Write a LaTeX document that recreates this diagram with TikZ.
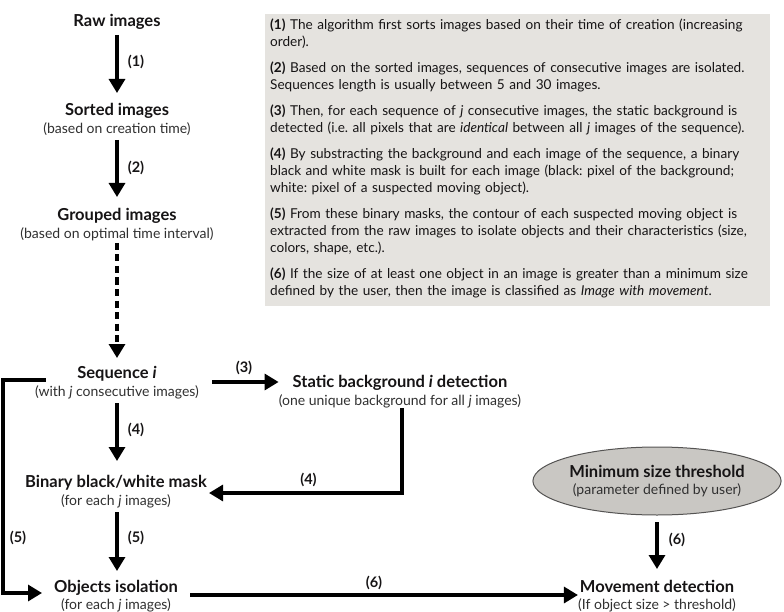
\documentclass[tikz,border=0pt]{standalone}
\usepackage{fontspec}
\setmainfont{Lato}
\usetikzlibrary{arrows.meta,shapes.geometric}
\definecolor{txt}{HTML}{161415}
\definecolor{subtxt}{HTML}{303030}
\definecolor{boxfill}{HTML}{E5E3DF}
\definecolor{ellfill}{HTML}{C9C7C3}
\definecolor{ellline}{HTML}{555453}
\tikzset{
  stage/.style={align=center, inner sep=0pt, text=txt, font=\fontsize{16.5}{19}\selectfont\bfseries},
  lab/.style={inner sep=0pt, text=txt, font=\fontsize{14.5}{16}\selectfont\bfseries},
  arr/.style={line width=3.2pt, draw=black, -{Triangle[width=16pt,length=14pt]}},
  dasharr/.style={arr, dash pattern=on 7pt off 4.5pt},
  thrbox/.style={ellipse, draw=ellline, line width=1pt, fill=ellfill, minimum width=233pt, minimum height=68pt, inner sep=0pt, align=center, text=txt, font=\fontsize{16.5}{19}\selectfont\bfseries},
}
\newcommand{\subl}[1]{\\[-1.5pt]{\fontsize{14}{15}\selectfont\mdseries\color{subtxt}#1}}
\begin{document}
\frenchspacing
\begin{tikzpicture}[x=1pt,y=-1pt]
\useasboundingbox (0,0) rectangle (784,612);
\fill[white] (0,0) rectangle (784,612);
% notes box
\fill[boxfill] (265,14) rectangle (770,306);
\node[anchor=north west, inner sep=0pt, text width=505pt, align=left, text=txt,
      font=\fontsize{13.6}{17}\selectfont] (notes) at (270,19) {%
\frenchspacing\setlength{\parskip}{9pt}%
\textbf{(1)} The algorithm first sorts images based on their time of creation (increasing\\order).\par
\textbf{(2)} Based on the sorted images, sequences of consecutive images are isolated.\\Sequences length is usually between 5 and 30 images.\par
\textbf{(3)} Then, for each sequence of \textit{j} consecutive images, the static background is\\detected (i.e. all pixels that are \textit{identical} between all \textit{j} images of the sequence).\par
\textbf{(4)} By substracting the background and each image of the sequence, a binary\\black and white mask is built for each image (black: pixel of the background;\\white: pixel of a suspected moving object).\par
\textbf{(5)} From these binary masks, the contour of each suspected moving object is\\extracted from the raw images to isolate objects and their characteristics (size,\\colors, shape, etc.).\par
\textbf{(6)} If the size of at least one object in an image is greater than a minimum size\\defined by the user, then the image is classified as \textit{Image with movement}.\par};
% stages
\node[stage] (raw) at (117,22) {Raw images};
\node[stage] (sorted) at (117,119.5) {Sorted images\subl{(based on creation time)}};
\node[stage] (grouped) at (117,224.5) {Grouped images\subl{(based on optimal time interval)}};
\node[stage] (seq) at (117,382.5) {Sequence \textit{i}\subl{(with \textit{j} consecutive images)}};
\node[stage] (bg) at (400,391.5) {Static background \textit{i} detection\subl{(one unique background for all \textit{j} images)}};
\node[stage] (mask) at (116,491.5) {Binary black/white mask\subl{(for each \textit{j} images)}};
\node[stage] (obj) at (116,596) {Objects isolation\subl{(for each \textit{j} images)}};
\node[thrbox] (thr) at (657,481) {Minimum size threshold\subl{(parameter defined by user)}};
\node[stage] (mov) at (657,596) {Movement detection\subl{(If object size > threshold)}};
% loop corners
\coordinate (lt) at (3,380);
\coordinate (lb) at (3,593);
% connectors
\draw[arr] (raw.south |- 0,35) -- (sorted.north |- 0,93);
\draw[arr] (sorted.south |- 0,140) -- (grouped.north |- 0,197);
\draw[dasharr] (grouped.south |- 0,243) -- (seq.north |- 0,358);
\draw[arr] (seq.south |- 0,403) -- (seq.south |- 0,461);
\draw[arr] (seq.south |- 0,512) -- (seq.south |- 0,571);
\draw[arr] (seq.east |- 0,382) ++(13,0) -- (bg.west |- 0,382);
\draw[arr] (bg.south -| 402,0) |- ([xshift=2pt]mask.east |- 0,493);
\draw[arr] (seq.west |- 0,380) ++(11,0) -- (lt) -- (lb) -- (42,593);
\draw[arr] (obj.east |- 0,595) ++(12,0) -- (mov.west |- 0,595);
\draw[arr] (thr.south |- 0,522) -- (mov.north |- 0,569);
% labels
\node[lab] (l1) at (136,62) {(1)};
\node[lab] (l2) at (136,168) {(2)};
\node[lab] (l3) at (244,368) {(3)};
\node[lab] (l4a) at (136,430) {(4)};
\node[lab] (l4b) at (308.5,480) {(4)};
\node[lab] (l5a) at (18,538) {(5)};
\node[lab] (l5b) at (136,538) {(5)};
\node[lab] (l6a) at (374,583) {(6)};
\node[lab] (l6b) at (677,540) {(6)};
\end{tikzpicture}
\end{document}
